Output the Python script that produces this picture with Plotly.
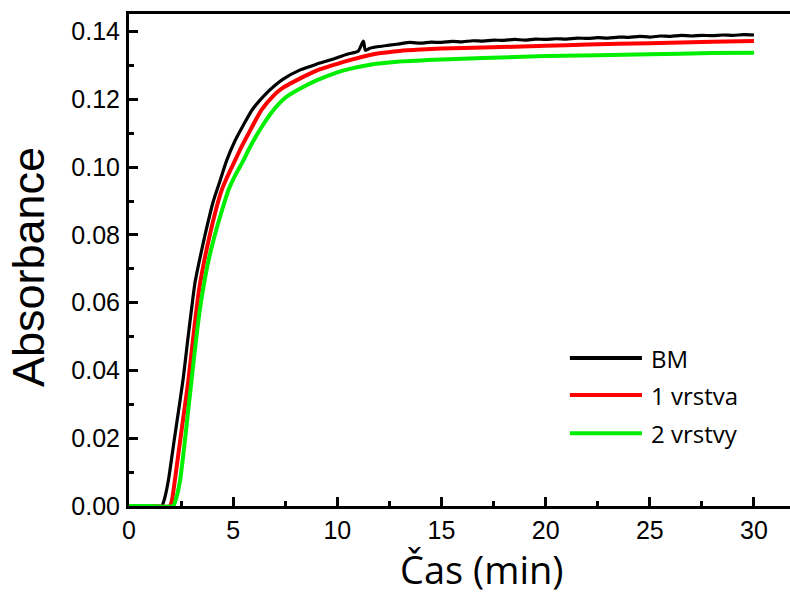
import plotly.graph_objects as go

# ---- data ----
t_bm = [0, 1.0, 1.57, 1.7, 1.89, 2.16, 2.4, 2.61, 2.8, 3.0, 3.17, 3.4, 3.65, 4.05, 4.37, 4.69,
        5.09, 5.5, 5.9, 6.5, 7.0, 7.4, 8.22, 9.0, 9.65, 10.5, 11.0, 11.25, 11.35, 11.57, 12.0,
        12.5, 13.0, 13.5, 14.0, 14.5, 15.0, 15.5, 16.0, 16.5, 17.0, 17.5, 18.0, 18.5, 19.0,
        19.5, 20.0, 20.5, 21.0, 21.5, 22.0, 22.5, 23.0, 23.5, 24.0, 24.5, 25.0, 25.5, 26.0,
        26.5, 27.0, 27.5, 28.0, 28.5, 29.0, 29.5, 30.0]
a_bm = [0, 0, 0, 0.002, 0.0075, 0.019, 0.029, 0.038, 0.048, 0.058, 0.066, 0.073, 0.080, 0.090,
        0.096, 0.102, 0.1078, 0.1125, 0.1168, 0.1212, 0.1241, 0.1260, 0.1287, 0.1304, 0.1316,
        0.1334, 0.1342, 0.1372, 0.1345, 0.1351, 0.1356, 0.1360, 0.1364, 0.1368, 0.1366, 0.1369,
        0.1368, 0.1371, 0.1370, 0.1373, 0.1372, 0.1375, 0.1374, 0.1377, 0.1375, 0.1378, 0.1377,
        0.1379, 0.1378, 0.1381, 0.1380, 0.1382, 0.1381, 0.1384, 0.1383, 0.1386, 0.1384, 0.1387,
        0.1386, 0.1389, 0.1387, 0.1389, 0.1388, 0.1390, 0.1389, 0.1391, 0.1390]

t_v1 = [0, 1.0, 1.97, 2.07, 2.2, 2.45, 2.65, 2.85, 3.05, 3.2, 3.38, 3.6, 3.88, 4.2, 4.45, 4.67,
        5.09, 5.4, 5.7, 6.37, 7.0, 7.33, 8.22, 9.0, 10.0, 10.6, 11.57, 12.0, 13.0, 14.0, 15.0,
        17.0, 20.0, 22.0, 25.0, 28.0, 30.0]
a_v1 = [0, 0, 0, 0.002, 0.0075, 0.019, 0.028, 0.037, 0.048, 0.056, 0.0645, 0.072, 0.080, 0.088,
        0.0932, 0.0965, 0.102, 0.106, 0.1095, 0.117, 0.1215, 0.1232, 0.1262, 0.1285, 0.1305,
        0.1316, 0.1331, 0.1336, 0.1343, 0.1347, 0.1350, 0.1353, 0.1358, 0.1362, 0.1366, 0.1370,
        0.1372]

t_v2 = [0, 1.0, 2.12, 2.25, 2.45, 2.64, 2.82, 3.0, 3.2, 3.38, 3.57, 3.8, 4.12, 4.45, 4.77, 5.05,
        5.49, 5.73, 6.3, 6.93, 7.5, 8.22, 9.0, 10.0, 10.6, 11.57, 12.0, 13.0, 15.0, 17.0, 20.0,
        25.0, 28.0, 30.0]
a_v2 = [0, 0, 0, 0.002, 0.0075, 0.017, 0.027, 0.037, 0.048, 0.057, 0.0645, 0.072, 0.080, 0.087,
        0.0932, 0.097, 0.102, 0.105, 0.1112, 0.1168, 0.1205, 0.1232, 0.1256, 0.1280, 0.1290,
        0.1302, 0.1306, 0.1312, 0.1318, 0.1322, 0.1328, 0.1333, 0.1337, 0.1338]

series_names = ["BM", "1 vrstva", "2 vrstvy"]
series_colors = ["#000000", "#ff0000", "#00ee00"]
x_ticks = [0, 5, 10, 15, 20, 25, 30]
y_ticks = [0.00, 0.02, 0.04, 0.06, 0.08, 0.10, 0.12, 0.14]

fig = go.Figure()
for (tx, ay), name, col, w in zip([(t_bm, a_bm), (t_v1, a_v1), (t_v2, a_v2)],
                                  series_names, series_colors, [3.2, 4, 4]):
    fig.add_trace(go.Scatter(x=tx, y=ay, mode="lines", name=name,
                             line=dict(color=col, width=w, shape="spline", smoothing=0.6),
                             showlegend=False))

# manual legend (long line samples, as in the reference)
leg_y = [0.3008, 0.2256, 0.148]
for name, col, yy in zip(series_names, series_colors, leg_y):
    fig.add_shape(type="line", xref="paper", yref="paper", x0=0.667, x1=0.776,
                  y0=yy, y1=yy, line=dict(color=col, width=4))
    fig.add_annotation(xref="paper", yref="paper", x=0.786, y=yy, text=name,
                       showarrow=False, xanchor="left", yanchor="middle",
                       font=dict(family="Open Sans", size=24, color="black"))

fig.add_annotation(xref="paper", yref="paper", x=-0.151, y=0.486, text="Absorbance",
                   textangle=-90, showarrow=False, xanchor="center", yanchor="middle",
                   font=dict(family="Arial", size=45, color="black"))
fig.add_annotation(xref="paper", yref="paper", x=0.534, y=-0.129, text="Čas (min)",
                   showarrow=False, xanchor="center", yanchor="middle",
                   font=dict(family="Open Sans", size=38, color="black"))

fig.update_layout(
    width=790, height=597,
    margin=dict(l=129, r=0, t=14, b=91, autoexpand=False),
    paper_bgcolor="white", plot_bgcolor="white",
    showlegend=False,
    font=dict(family="Arial", color="black"),
)
fig.update_xaxes(range=[0, 31.73], tickvals=x_ticks, ticktext=[str(v) for v in x_ticks],
                 ticks="inside", ticklen=9, tickwidth=2.5, tickcolor="black",
                 minor=dict(ticks="inside", ticklen=5, tickwidth=2.5, dtick=2.5, tick0=0, tickcolor="black"),
                 showline=True, linewidth=3, linecolor="black", mirror=True,
                 showgrid=False, zeroline=False, automargin=False,
                 tickfont=dict(family="Arial", size=25, color="black"), ticklabelstandoff=0)
fig.update_yaxes(range=[0, 0.1452], tickvals=y_ticks, ticktext=[f"{v:.2f}" for v in y_ticks],
                 ticks="inside", ticklen=9, tickwidth=2.5, tickcolor="black",
                 minor=dict(ticks="inside", ticklen=5, tickwidth=2.5, dtick=0.01, tick0=0, tickcolor="black"),
                 showline=True, linewidth=3, linecolor="black", mirror=False,
                 showgrid=False, zeroline=False, automargin=False,
                 tickfont=dict(family="Arial", size=25, color="black"), ticklabelstandoff=1)

fig.write_html("out.html", config={"displayModeBar": False},
               post_script="document.body.style.margin='0';document.body.style.padding='0';")
